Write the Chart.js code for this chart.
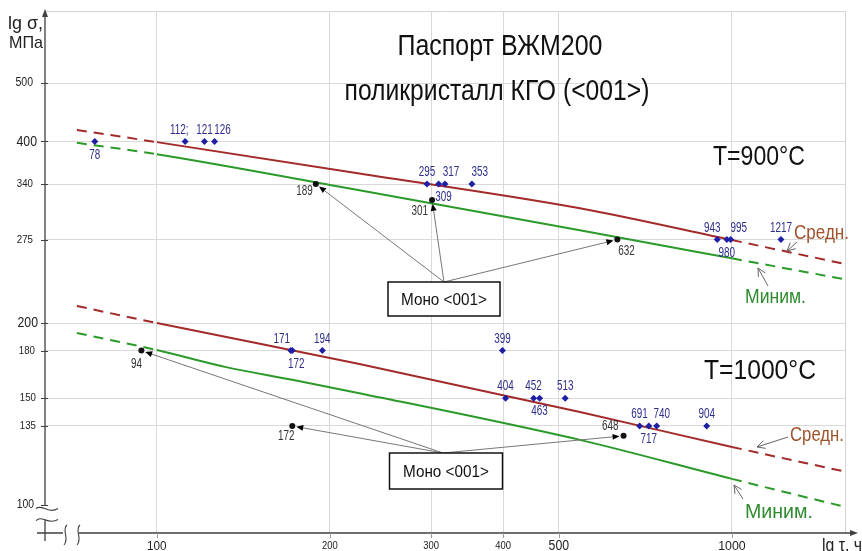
<!DOCTYPE html>
<html>
<head>
<meta charset="utf-8">
<script src="https://cdn.jsdelivr.net/npm/chart.js@4.4.1/dist/chart.umd.min.js"></script>
<style>
  html, body { margin: 0; padding: 0; background: #fff; }
  canvas { display: block; }
</style>
</head>
<body>
<canvas id="c" width="862" height="551"></canvas>
<script>
// Axis ticks (log scales): rupture time, h and stress, MPa
const X_TICKS = [100, 200, 300, 400, 500, 1000];
const Y_TICKS = [100, 135, 150, 180, 200, 275, 340, 400, 500];

// Polycrystal test results: rupture time, h, at test stress, MPa
const POLY_900_HOURS   = [78, 112, 121, 126, 295, 309, 317, 353, 943, 980, 995, 1217];
const POLY_900_STRESS  = [400, 400, 400, 400, 340, 340, 340, 340, 275, 275, 275, 275];
const POLY_1000_HOURS  = [171, 172, 194, 399, 404, 452, 463, 513, 691, 717, 740, 904];
const POLY_1000_STRESS = [180, 180, 180, 180, 150, 150, 150, 150, 135, 135, 135, 135];

// Single crystal <001> results
const MONO_900_HOURS   = [189, 301, 632];
const MONO_900_STRESS  = [340, 320, 275];
const MONO_1000_HOURS  = [94, 172, 648];
const MONO_1000_STRESS = [180, 135, 130];

// Passport curves: average and minimum long-term strength
const AVG_900_HOURS   = [72.6, 100, 225, 544, 1000, 1572];
const AVG_900_STRESS  = [418, 399, 354, 310, 274.5, 250.6];
const MIN_900_HOURS   = [72.6, 100, 225, 544, 1000, 1560];
const MIN_900_STRESS  = [398, 381, 332, 285, 256, 236.6];
const AVG_1000_HOURS  = [72.6, 100, 225, 544, 1000, 1553];
const AVG_1000_STRESS = [213.4, 200, 171, 142.4, 124.6, 113.7];
const MIN_1000_HOURS  = [72.6, 100, 132, 172, 225, 544, 1000, 1553];
const MIN_1000_STRESS = [192.5, 180.4, 169, 161, 153, 128, 110.3, 99.4];

const pts = (hs, ss) => hs.map((h, i) => ({ x: h, y: ss[i] }));

const RED = '#a32a2a';
const GREEN = '#2b9a2b';
const BLUE = '#1f1fa6';
const BLUE_TXT = '#2e2e8c';
const FONT = '"Liberation Sans", Arial, sans-serif';

// labels placed under their point; everything else goes above
const BELOW = { 900: [78, 309, 980], 1000: [172, 463, 717] };
// small horizontal nudges so neighbouring labels do not collide
const NUDGE = { 112: -6, 126: 8, 317: 6, 353: 8, 309: 5, 943: -5, 995: 8, 171: -9, 740: 5, 172: 4 };

function txt(ctx, s, x, y, o) {
  ctx.save();
  ctx.font = o.size + 'px ' + FONT;
  ctx.fillStyle = o.color || '#000';
  ctx.textBaseline = o.baseline || 'middle';
  ctx.textAlign = o.align || 'center';
  const w = ctx.measureText(s).width;
  const sx = o.width ? o.width / w : (o.sq || 1);
  ctx.translate(x, y);
  ctx.scale(sx, 1);
  ctx.fillText(s, 0, 0);
  ctx.restore();
}

function arrow(ctx, x1, y1, x2, y2, o) {
  const a = Math.atan2(y2 - y1, x2 - x1);
  const L = o.len || 7, H = o.half || 3;
  const bx = x2 - Math.cos(a) * L, by = y2 - Math.sin(a) * L;
  const nx = -Math.sin(a) * H, ny = Math.cos(a) * H;
  ctx.save();
  ctx.strokeStyle = o.color;
  ctx.lineWidth = o.lw || 1;
  ctx.beginPath();
  ctx.moveTo(x1, y1);
  if (o.filled) ctx.lineTo(bx, by); else ctx.lineTo(x2, y2);
  ctx.stroke();
  ctx.beginPath();
  ctx.moveTo(bx + nx, by + ny);
  ctx.lineTo(x2, y2);
  ctx.lineTo(bx - nx, by - ny);
  if (o.filled) {
    ctx.closePath();
    ctx.fillStyle = o.head || '#000';
    ctx.fill();
  } else {
    ctx.strokeStyle = o.head || o.color;
    ctx.stroke();
  }
  ctx.restore();
}

// tick label looks: size, horizontal squeeze, right edge (y) / none (x)
const Y_LABEL_STYLE = {
  100: { size: 13, sq: 0.8, r: 34 }, 135: { size: 11, sq: 0.88, r: 36 }, 150: { size: 11, sq: 0.88, r: 36 },
  180: { size: 11, sq: 0.88, r: 35 }, 200: { size: 15, sq: 0.82, r: 38 }, 275: { size: 11, sq: 0.88, r: 33 },
  340: { size: 11, sq: 0.88, r: 33 }, 400: { size: 15, sq: 0.82, r: 37 }, 500: { size: 12, sq: 0.88, r: 33 }
};
const X_LABEL_STYLE = {
  100: { size: 13, sq: 0.9 }, 200: { size: 10.5, sq: 0.9 }, 300: { size: 10.5, sq: 0.9 },
  400: { size: 10.5, sq: 0.9 }, 500: { size: 15, sq: 0.82 }, 1000: { size: 13, sq: 0.95 }
};

const decor = {
  id: 'decor',
  beforeDraw(chart) {
    const c = chart.ctx;
    c.save();
    c.fillStyle = '#fff';
    c.fillRect(0, 0, chart.width, chart.height);
    c.restore();
  },
  beforeDatasetsDraw(chart) {
    const c = chart.ctx, a = chart.chartArea;
    c.save();
    c.strokeStyle = '#d4d4d4';
    c.lineWidth = 1;
    c.beginPath();
    c.moveTo(a.left, a.top + 0.5); c.lineTo(a.right, a.top + 0.5);
    c.moveTo(a.right - 0.5, a.top); c.lineTo(a.right - 0.5, a.bottom);
    c.stroke();
    c.restore();
  },
  afterDraw(chart) {
    const c = chart.ctx, a = chart.chartArea;
    const xs = chart.scales.x, ys = chart.scales.y;
    const X = v => xs.getPixelForValue(v), Y = v => ys.getPixelForValue(v);
    const L = a.left, B = a.bottom;

    // axes with breaks and arrows
    c.save();
    c.strokeStyle = '#404040';
    c.lineWidth = 1.3;
    c.beginPath();
    c.moveTo(L, 14); c.lineTo(L, Y(100) + 1);
    c.moveTo(L, Y(100) + 16); c.lineTo(L, B + 8);
    c.moveTo(L - 8, B); c.lineTo(63, B);
    c.moveTo(79, B); c.lineTo(852, B);
    c.stroke();
    c.fillStyle = '#404040';
    c.beginPath();
    c.moveTo(L, 9); c.lineTo(L - 3, 17); c.lineTo(L + 3, 17); c.closePath(); c.fill();
    c.beginPath();
    c.moveTo(858, B); c.lineTo(850, B - 3); c.lineTo(850, B + 3); c.closePath(); c.fill();
    // break marks
    c.lineWidth = 1.1;
    const yb = Y(100);
    c.beginPath();
    c.moveTo(36, yb + 4); c.bezierCurveTo(42, yb - 1, 48, yb + 10, 58, yb + 4);
    c.moveTo(36, yb + 16); c.bezierCurveTo(42, yb + 10, 48, yb + 21, 58, yb + 15);
    c.moveTo(67, B - 8); c.bezierCurveTo(61, B - 3, 70, B + 5, 64, B + 12);
    c.moveTo(80, B - 8); c.bezierCurveTo(74, B - 3, 83, B + 5, 77, B + 12);
    c.stroke();
    // tick marks
    c.lineWidth = 1.2;
    c.beginPath();
    Y_TICKS.forEach(v => { const y = Math.round(Y(v)) + 0.5; c.moveTo(L - 4, y); c.lineTo(L + 3, y); });
    c.stroke();
    c.strokeStyle = '#9a9a9a';
    c.lineWidth = 1;
    c.beginPath();
    X_TICKS.forEach(v => { const x = Math.round(X(v)) + 0.5; c.moveTo(x, B); c.lineTo(x, B + 5); });
    c.stroke();
    c.restore();

    // tick labels
    Y_TICKS.forEach(v => {
      const st = Y_LABEL_STYLE[v];
      txt(c, String(v), st.r, Y(v), { size: st.size, sq: st.sq, align: 'right', color: '#222' });
    });
    X_TICKS.forEach(v => {
      const st = X_LABEL_STYLE[v];
      txt(c, String(v), X(v), 546, { size: st.size, sq: st.sq, color: '#222' });
    });

    // axis titles
    txt(c, 'lg σ,', 8, 29, { size: 18, width: 35, align: 'left', baseline: 'alphabetic', color: '#222' });
    txt(c, 'МПа', 9, 48, { size: 17, width: 34, align: 'left', baseline: 'alphabetic', color: '#222' });
    txt(c, 'lg τ, ч', 822, 546, { size: 18, width: 40, align: 'left', color: '#222' });

    // title
    txt(c, 'Паспорт ВЖМ200', 500, 55, { size: 29, width: 205, baseline: 'alphabetic', color: '#111' });
    txt(c, 'поликристалл КГО (<001>)', 497, 100, { size: 29, width: 305, baseline: 'alphabetic', color: '#111' });
    txt(c, 'T=900°C', 759, 165, { size: 28, width: 92, baseline: 'alphabetic', color: '#111' });
    txt(c, 'T=1000°C', 760, 379, { size: 28, width: 112, baseline: 'alphabetic', color: '#111' });

    // curve captions with pointers
    const BROWN = '#a0522d', DKGREEN = '#2e8b2e';
    txt(c, 'Средн.', 794, 239, { size: 20, width: 55, align: 'left', baseline: 'alphabetic', color: BROWN });
    txt(c, 'Средн.', 790, 441, { size: 20, width: 54, align: 'left', baseline: 'alphabetic', color: BROWN });
    txt(c, 'Миним.', 745, 303, { size: 21, width: 61, align: 'left', baseline: 'alphabetic', color: DKGREEN });
    txt(c, 'Миним.', 745, 518, { size: 21, width: 68, align: 'left', baseline: 'alphabetic', color: DKGREEN });
    const ptr = { color: '#666', len: 8, half: 4, lw: 1 };
    arrow(c, 797, 242, 787, 251, ptr);
    arrow(c, 768, 286, 758, 268, ptr);
    arrow(c, 788, 437, 757, 447, ptr);
    arrow(c, 743, 499, 734, 485, ptr);

    // polycrystal point labels
    const labelPoly = (hs, ss, temp) => hs.forEach((h, i) => {
      const px = X(h) + (NUDGE[h] || 0), py = Y(ss[i]);
      const below = BELOW[temp].includes(h);
      const s = h === 112 ? '112;' : String(h);
      txt(c, s, px, below ? py + 13 : py - 12, { size: 15, sq: 0.66, color: BLUE_TXT });
    });
    labelPoly(POLY_900_HOURS, POLY_900_STRESS, 900);
    labelPoly(POLY_1000_HOURS, POLY_1000_STRESS, 1000);

    // single crystal boxes and pointers
    const box = (cx, cy, w, h) => {
      c.save();
      c.fillStyle = '#fff';
      c.fillRect(cx - w / 2, cy - h / 2, w, h);
      c.strokeStyle = '#111';
      c.lineWidth = 1.5;
      c.strokeRect(cx - w / 2, cy - h / 2, w, h);
      c.restore();
      txt(c, 'Моно <001>', cx, cy + 1, { size: 17, width: 86, color: '#111' });
    };
    const mono = { color: '#777', filled: true, head: '#000', len: 7, half: 3 };
    const pointTo = (tx, ty, h, s) => {
      const px = X(h), py = Y(s);
      const d = Math.hypot(tx - px, ty - py);
      arrow(c, tx, ty, px + (tx - px) / d * 4, py + (ty - py) / d * 4, mono);
    };
    MONO_900_HOURS.forEach((h, i) => pointTo(444, 282, h, MONO_900_STRESS[i]));
    MONO_1000_HOURS.forEach((h, i) => pointTo(443, 453, h, MONO_1000_STRESS[i]));
    box(444, 299, 112, 34);
    box(446, 471, 113, 36);

    // single crystal point labels
    const monoLbl = { 189: [-3, 7, 'right'], 301: [-4, 11, 'right'], 632: [1, 11, 'left'],
                      94: [-5, 13, 'center'], 172: [-6, 10, 'center'], 648: [-5, -10, 'right'] };
    const labelMono = (hs, ss) => hs.forEach((h, i) => {
      const m = monoLbl[h];
      txt(c, String(h), X(h) + m[0], Y(ss[i]) + m[1], { size: 15, sq: 0.66, align: m[2], color: '#333' });
    });
    labelMono(MONO_900_HOURS, MONO_900_STRESS);
    labelMono(MONO_1000_HOURS, MONO_1000_STRESS);
  }
};

const dashOutside = c =>
  (c.p1.parsed.x <= 100.0001 || c.p0.parsed.x >= 999.999) ? [10, 7] : undefined;

const curve = (hs, ss, color) => ({
  data: pts(hs, ss),
  showLine: true,
  borderColor: color,
  borderWidth: 2,
  pointRadius: 0,
  cubicInterpolationMode: 'monotone',
  segment: { borderDash: dashOutside },
  order: 2
});
const marks = (hs, ss, color, style, r) => ({
  data: pts(hs, ss),
  showLine: false,
  pointStyle: style,
  pointRadius: r,
  pointBackgroundColor: color,
  pointBorderColor: color,
  pointBorderWidth: 0,
  order: 1
});

new Chart(document.getElementById('c'), {
  type: 'scatter',
  data: {
    datasets: [
      curve(AVG_900_HOURS, AVG_900_STRESS, RED),
      curve(MIN_900_HOURS, MIN_900_STRESS, GREEN),
      curve(AVG_1000_HOURS, AVG_1000_STRESS, RED),
      curve(MIN_1000_HOURS, MIN_1000_STRESS, GREEN),
      marks(POLY_900_HOURS, POLY_900_STRESS, BLUE, 'rectRot', 3.5),
      marks(POLY_1000_HOURS, POLY_1000_STRESS, BLUE, 'rectRot', 3.5),
      marks(MONO_900_HOURS, MONO_900_STRESS, '#111', 'circle', 3),
      marks(MONO_1000_HOURS, MONO_1000_STRESS, '#111', 'circle', 3)
    ]
  },
  options: {
    responsive: false,
    animation: false,
    events: [],
    layout: { padding: { left: 45, right: 16, top: 11, bottom: 18 } },
    plugins: { legend: { display: false }, tooltip: { enabled: false } },
    scales: {
      x: {
        type: 'logarithmic', min: 63.9, max: 1579,
        afterBuildTicks: s => { s.ticks = X_TICKS.map(v => ({ value: v })); },
        ticks: { display: false },
        grid: { color: '#d9d9d9', lineWidth: 1, drawTicks: false },
        border: { display: false }
      },
      y: {
        type: 'logarithmic', min: 89.7, max: 658.3,
        afterBuildTicks: s => { s.ticks = Y_TICKS.map(v => ({ value: v })); },
        ticks: { display: false },
        grid: {
          color: c => (c.tick && c.tick.value === 100) ? 'rgba(0,0,0,0)' : '#d9d9d9',
          lineWidth: 1, drawTicks: false
        },
        border: { display: false }
      }
    }
  },
  plugins: [decor]
});
</script>
</body>
</html>
